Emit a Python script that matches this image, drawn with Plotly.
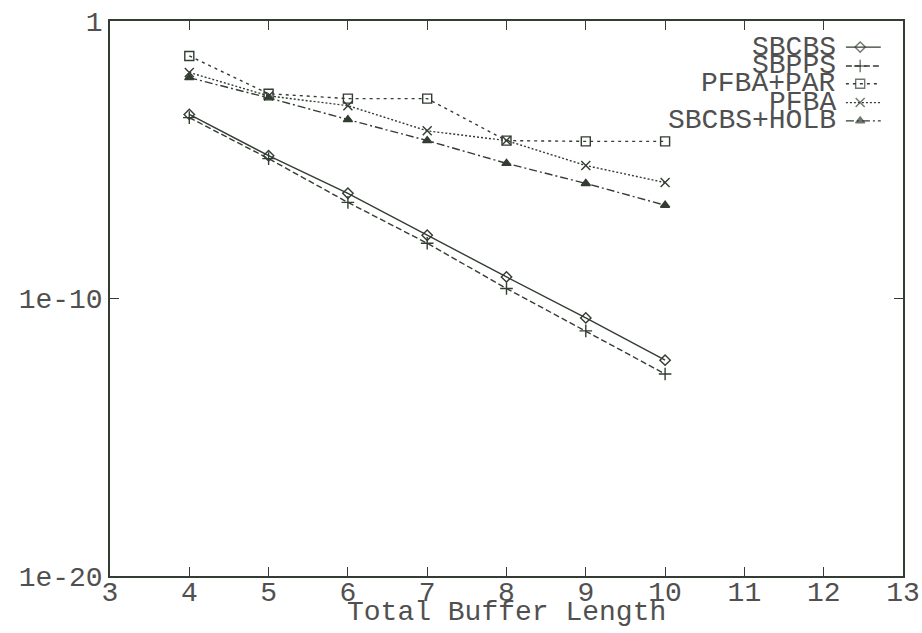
import plotly.graph_objects as go

x_len = [4, 5, 6, 7, 8, 9, 10]
sbcbs = [4.3e-4, 1.4e-5, 6.2e-7, 1.9e-8, 6.0e-10, 2.0e-11, 6.0e-13]
sbpps = [3.3e-4, 1.1e-5, 2.9e-7, 9.8e-9, 2.3e-10, 6.8e-12, 1.9e-13]
pfba_par = [5.5e-2, 2.4e-3, 1.6e-3, 1.6e-3, 4.9e-5, 4.6e-5, 4.6e-5]
pfba = [1.4e-2, 2.0e-3, 8.9e-4, 1.1e-4, 4.9e-5, 6.2e-6, 1.5e-6]
sbcbs_holb = [9.1e-3, 1.7e-3, 2.8e-4, 4.9e-5, 7.4e-6, 1.4e-6, 2.3e-7]

names = ["SBCBS", "SBPPS", "PFBA+PAR", "PFBA", "SBCBS+HOLB"]
series = [sbcbs, sbpps, pfba_par, pfba, sbcbs_holb]
dashes = ["solid", "6px,3px", "3px,4px", "2px,2px", "8px,3px,2px,3px"]
symbols = ["diamond-open", "cross-thin", "square-open", "x-thin", "triangle-up"]
sizes = [8, 9, 9, 9, 8]

ink = "#333d33"
txt = "#505050"
font = dict(family="Liberation Mono, Courier New, monospace", size=28, color=txt)

fig = go.Figure()
for nm, ys, d, s, sz in zip(names, series, dashes, symbols, sizes):
    fig.add_trace(go.Scatter(
        x=x_len, y=ys, mode="lines+markers", name=nm, showlegend=False,
        line=dict(color=ink, width=1.4, dash=d),
        marker=dict(symbol=s, size=sz, color=ink, line=dict(color=ink, width=1.4)),
    ))

# manual legend (samples on an overlay axis in paper-like units)
leg_y = [0.953, 0.919, 0.887, 0.853, 0.820]
for i, (nm, d, s, sz) in enumerate(zip(names, dashes, symbols, sizes)):
    fig.add_trace(go.Scatter(
        x=[0.928, 0.946, 0.972], y=[leg_y[i]] * 3, mode="lines+markers",
        xaxis="x2", yaxis="y2", showlegend=False, hoverinfo="skip",
        line=dict(color=ink, width=1.4, dash=d),
        marker=dict(symbol=s, size=[0, sz, 0], color=ink, line=dict(color=ink, width=1.4)),
    ))
    fig.add_annotation(x=0.918, y=leg_y[i], xref="paper", yref="paper", text=nm,
                       showarrow=False, xanchor="right", yanchor="middle", font=font)

fig.add_annotation(x=0.5, y=-0.066, xref="paper", yref="paper", text="Total Buffer Length",
                   showarrow=False, xanchor="center", yanchor="middle", font=font)

axis_common = dict(showgrid=False, zeroline=False, showline=True, linecolor=ink, linewidth=1.5,
                   mirror="ticks", ticks="inside", ticklen=9, tickcolor=ink, tickwidth=1.2,
                   tickfont=font, automargin=False)

fig.update_layout(
    width=922, height=633,
    margin=dict(l=110, r=19, t=21, b=57),
    paper_bgcolor="white", plot_bgcolor="white",
    font=font,
    xaxis=dict(range=[3, 13], dtick=1, tick0=3, ticklabelstandoff=-10, **axis_common),
    yaxis=dict(type="log", range=[-20, 0], tickvals=[1, 1e-10, 1e-20],
               ticktext=["1", "1e-10", "1e-20"], **axis_common),
    xaxis2=dict(range=[0, 1], overlaying="x", visible=False, fixedrange=True, automargin=False),
    yaxis2=dict(range=[0, 1], overlaying="y", visible=False, fixedrange=True, automargin=False),
)

fig.write_html("out.html")
